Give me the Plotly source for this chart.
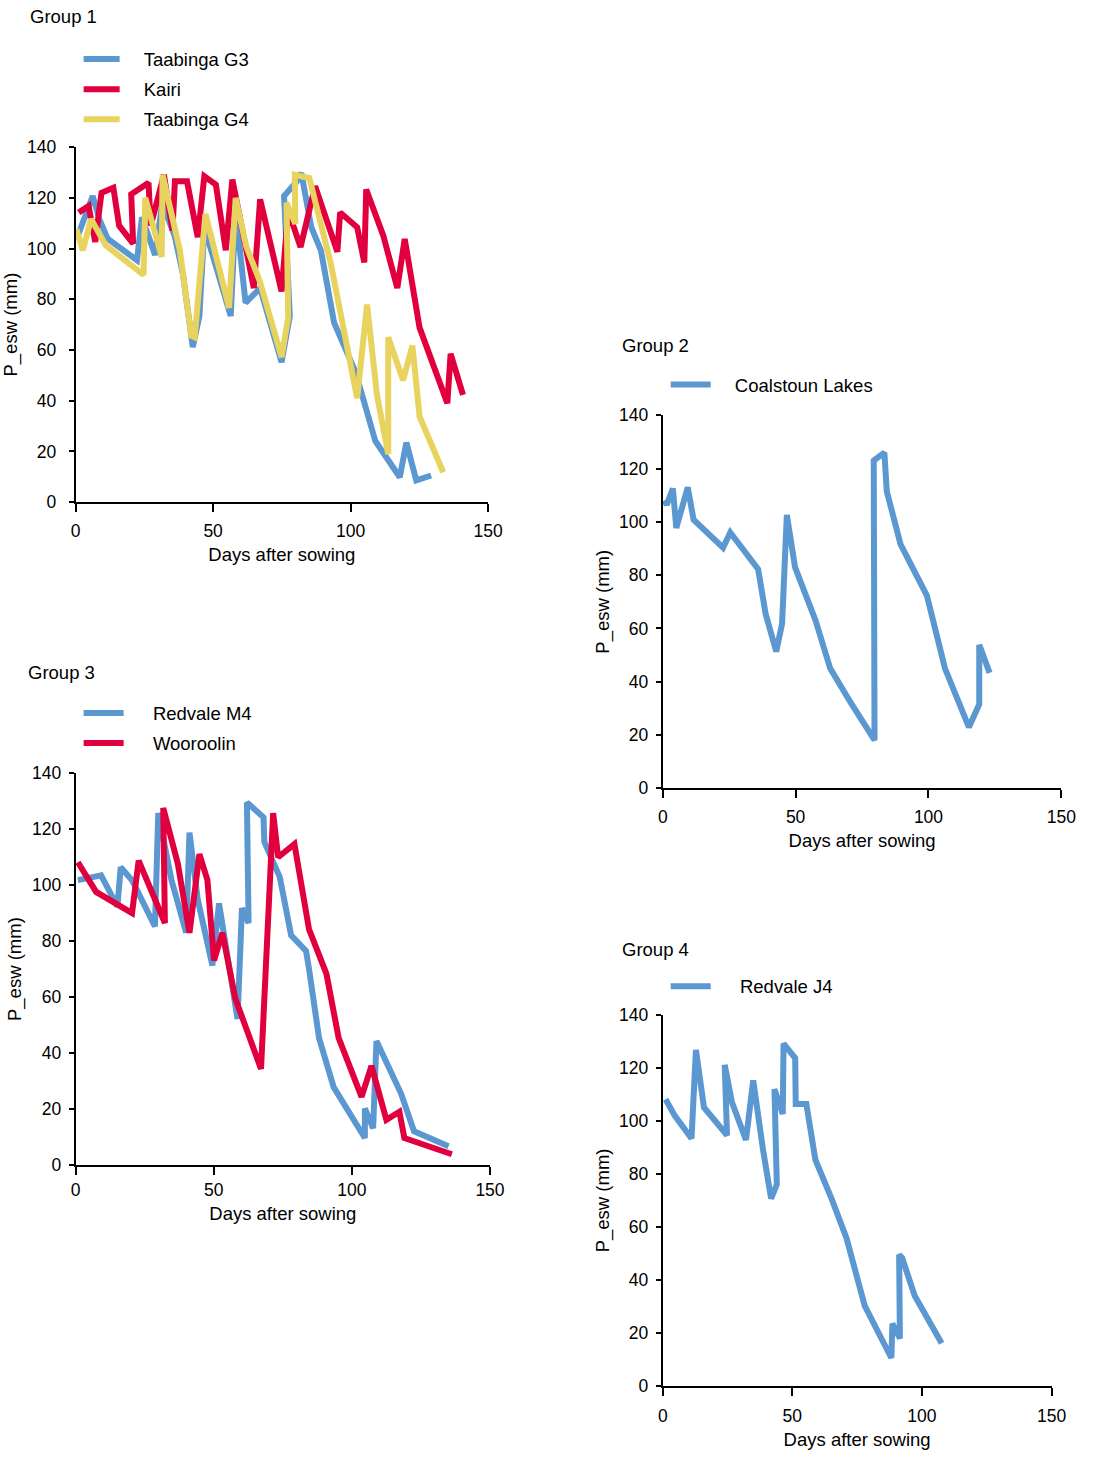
import plotly.graph_objects as go

# The page adds an 8px body margin, so the figure is 16px smaller than the window
W, H = 1095, 1454

# ---------------- Data ----------------
# Group 1
g3_days = [0.8, 6.2, 8.6, 11.6, 22.3, 24.1, 28.9, 31.5, 36, 39, 42.6, 45, 46.8, 56.4, 58.2, 61.8, 67.1,
           74.9, 77.9, 75.8, 80.5, 82.1, 85.7, 89.2, 94, 101.8, 109, 114.3, 117.9, 120.3, 123.9, 129.3]
g3_esw = [105.1, 120.7, 111.6, 103.9, 95.4, 112.3, 97.4, 118, 105, 90, 61.1, 73.4, 108.4, 73.4, 114.9, 78.6, 84.4,
          55.2, 73.4, 120.7, 126.5, 129.8, 108.4, 99.3, 70.8, 51.3, 24.1, 15.7, 9.8, 23.5, 8.6, 10.5]

kairi_days = [1.1, 4.7, 7.1, 9.4, 13.7, 15.8, 20.9, 20.2, 26.5, 27.3, 32.1, 35.2, 36.1, 40.5, 44.4, 46.8, 51,
              54.6, 57, 64.8, 67.1, 74.9, 77.3, 81.8, 87.1, 95.2, 96.2, 102.4, 105, 105.7, 111.9, 117, 119.7,
              125.1, 135.2, 136.4, 140.9]
kairi_esw = [114.2, 116.8, 102.6, 122, 124, 109, 101.9, 121.4, 125.9, 109, 129.1, 107.1, 126.5, 126.5, 104.5, 128.5,
             125.2, 99.3, 127.2, 84.4, 119.4, 83.1, 114.9, 100.6, 124.6, 98.7, 114.2, 108.4, 94.5, 123.3, 105.1,
             84.4, 103.8, 68.8, 39, 58.5, 42.3]

g4_days = [0.2, 2.6, 5.6, 11, 24.7, 25.3, 31.3, 31.6, 37.9, 42, 43.3, 47.2, 55.8, 58.2, 62, 67, 74.9, 77.3,
           76.7, 79.9, 79.7, 85, 92.8, 97, 102.4, 106, 109.6, 113.7, 113.7, 119.1, 122.5, 125.1, 133.7]
g4_esw = [107.7, 99.3, 111.6, 101.2, 89.6, 120, 96.7, 129.1, 99.3, 65.6, 65, 113.6, 76.6, 120, 101, 87, 57.2, 72.7,
          118.1, 109.7, 129.1, 127.8, 94.1, 69.5, 41, 77.9, 42.3, 18.9, 65, 48.1, 61.7, 33.8, 11.8]

# Group 2
cl_days = [0.5, 1.5, 3.8, 5.1, 9.4, 11.6, 22.7, 25.4, 35.9, 38.7, 42.7, 44.9, 46.7, 49.8, 57.5, 63, 70.8,
           79.7, 79.4, 83.4, 84.3, 89.5, 99.4, 106.2, 115.2, 119.1, 119.1, 123]
cl_esw = [108, 106.5, 112.5, 97.7, 113, 100.8, 90.3, 96, 82.2, 65.5, 51.3, 61.8, 102.6, 82.9, 63, 45, 32,
          18, 123, 126, 111.5, 91.5, 72.3, 45, 22.9, 31.5, 53.8, 43.3]

# Group 3
m4_days = [0.8, 9.2, 15.1, 16.3, 20.4, 28.7, 29.9, 34.7, 40, 41.2, 44.2, 49.5, 51.9, 58.6, 60.2, 62.6,
           62, 68, 68.3, 73.9, 78, 83.4, 84.5, 88.1, 93.4, 104.7, 104.7, 107.7, 108.9, 117.8, 122.5, 135]
m4_esw = [101.8, 103.5, 92.4, 106.4, 101.8, 85.3, 125.8, 101.8, 83, 118.8, 94.8, 71.3, 93.5, 52.2, 91.8, 86.5,
          129.6, 124.3, 115.5, 102.9, 82.1, 76.5, 70, 45.4, 27.8, 9.6, 20.2, 13.1, 44.3, 25.5, 12, 6.7]

woo_days = [0.8, 7.4, 20.4, 22.8, 32.3, 31.7, 37, 41.2, 44.8, 47.7, 50.1, 53.1, 57.8, 67.1, 71.5, 73.3,
            79.2, 84.5, 90.8, 95.2, 103.5, 107.1, 112.5, 117.2, 119, 136.2]
woo_esw = [108.2, 97.6, 90, 108.8, 86.5, 127.6, 107.6, 83, 111.1, 101.8, 73.1, 83, 59.5, 34.3, 125.8, 110,
           114.7, 84.2, 68.3, 45.4, 24.3, 35.4, 16.1, 19, 9.6, 3.8]

# Group 4
j4_days = [1.1, 4.6, 11.1, 12.8, 15.9, 24.8, 23.9, 26.7, 32.1, 34.9, 38.7, 41.8, 44, 43.1, 46.3, 46.6,
           51.1, 51.3, 55.4, 58.9, 65.2, 70.9, 77.9, 88.2, 88.6, 91.5, 91.2, 92.4, 97.2, 107.6]
j4_esw = [108.2, 102, 93.4, 126.8, 105.1, 94.6, 121.2, 107, 92.8, 115.3, 89, 70.7, 76, 112, 102.6, 129.2,
          123.7, 106.4, 106.4, 85.3, 70.5, 55.7, 30.3, 10.5, 23.5, 17.9, 49.5, 48.2, 34, 16.1]

group_titles = ["Group 1", "Group 2", "Group 3", "Group 4"]
x_title = "Days after sowing"
y_title = "P_esw (mm)"
x_ticks = [0, 50, 100, 150]

BLUE = "#5B97D1"
RED = "#E1003D"
YELLOW = "#E9D35F"

FONT = "Liberation Sans, Arial, Helvetica, sans-serif"
LW = 6

# ---------------- Layout geometry (figure pixels) ----------------
panels = {
    # panel: (x0, x1, ytop, ybottom, y_label_standoff, x_label_standoff, x_title_standoff, y_title_standoff)
    1: (72, 492, 139, 499, 9, 4, 8, 5),
    2: (670, 1076, 411, 789, 4, 4, 8, 5),
    3: (72, 494, 774, 1171, 4, 0, 8, 5),
    4: (670, 1066, 1019, 1395, 4, 5, 8, 5),
}

fig = go.Figure()

GAP12 = "\u00a0" * 3 + "\u2009"
GAP34 = "\u00a0" * 4 + "\u2009"


def add(x, y, name, color, panel, legend, gap):
    xa = "x" if panel == 1 else f"x{panel}"
    ya = "y" if panel == 1 else f"y{panel}"
    fig.add_trace(go.Scatter(
        x=x, y=y, mode="lines", name=gap + name,
        line=dict(color=color, width=LW),
        xaxis=xa, yaxis=ya, legend=legend, legendgroup=name,
        hoverinfo="skip",
    ))


add(g3_days, g3_esw, "Taabinga G3", BLUE, 1, "legend", GAP12)
add(kairi_days, kairi_esw, "Kairi", RED, 1, "legend", GAP12)
add(g4_days, g4_esw, "Taabinga G4", YELLOW, 1, "legend", GAP12)
add(cl_days, cl_esw, "Coalstoun Lakes", BLUE, 2, "legend2", GAP12)
add(m4_days, m4_esw, "Redvale M4", BLUE, 3, "legend3", GAP34)
add(woo_days, woo_esw, "Wooroolin", RED, 3, "legend3", GAP34)
add(j4_days, j4_esw, "Redvale J4", BLUE, 4, "legend4", GAP34)

layout = dict(
    width=W, height=H,
    margin=dict(l=0, r=0, t=0, b=0),
    paper_bgcolor="white", plot_bgcolor="white",
    font=dict(family=FONT, size=17.5, color="black"),
    showlegend=True,
)

for p, (x0, x1, yt, yb, ylso, xlso, xts, yts) in panels.items():
    xk = "xaxis" if p == 1 else f"xaxis{p}"
    yk = "yaxis" if p == 1 else f"yaxis{p}"
    ya_ref = "y" if p == 1 else f"y{p}"
    xa_ref = "x" if p == 1 else f"x{p}"
    common = dict(showgrid=False, zeroline=False, showline=True, linecolor="black", linewidth=2,
                  ticks="outside", tickwidth=2, tickcolor="black",
                  tickfont=dict(size=17.5, family=FONT), fixedrange=True)
    layout[xk] = dict(common, domain=[x0 / W, x1 / W], range=[0, 150], tickvals=x_ticks, ticklen=8,
                      anchor=ya_ref, ticklabelstandoff=xlso,
                      title=dict(text=x_title, font=dict(size=18.5, family=FONT), standoff=xts))
    layout[yk] = dict(common, domain=[1 - yb / H, 1 - yt / H], range=[0, 140], dtick=20, ticklen=5,
                      anchor=xa_ref, ticklabelstandoff=ylso,
                      title=dict(text=y_title, font=dict(size=18.5, family=FONT), standoff=yts))

legend_pos = {
    "legend": (75, 31, 36),
    "legend2": (673, 361, 40),
    "legend3": (75, 694, 40),
    "legend4": (673, 971, 40),
}
for lk, (lx, ly, iw) in legend_pos.items():
    layout[lk] = dict(x=lx / W, y=1 - ly / H, xanchor="left", yanchor="top",
                      font=dict(size=18.5, family=FONT), itemwidth=iw, tracegroupgap=3,
                      bgcolor="rgba(0,0,0,0)", borderwidth=0, itemclick=False, itemdoubleclick=False)

title_pos = [(23, 7), (626, 340), (21, 672), (626, 953)]
annotations = []
for t, (tx, ty) in zip(group_titles, title_pos):
    annotations.append(dict(text=t, x=tx / W, y=1 - ty / H, xref="paper", yref="paper",
                            xanchor="left", yanchor="middle", showarrow=False,
                            font=dict(size=18.5, family=FONT, color="black")))
layout["annotations"] = annotations

fig.update_layout(**layout)
fig.write_html("out.html", config={"displayModeBar": False})
